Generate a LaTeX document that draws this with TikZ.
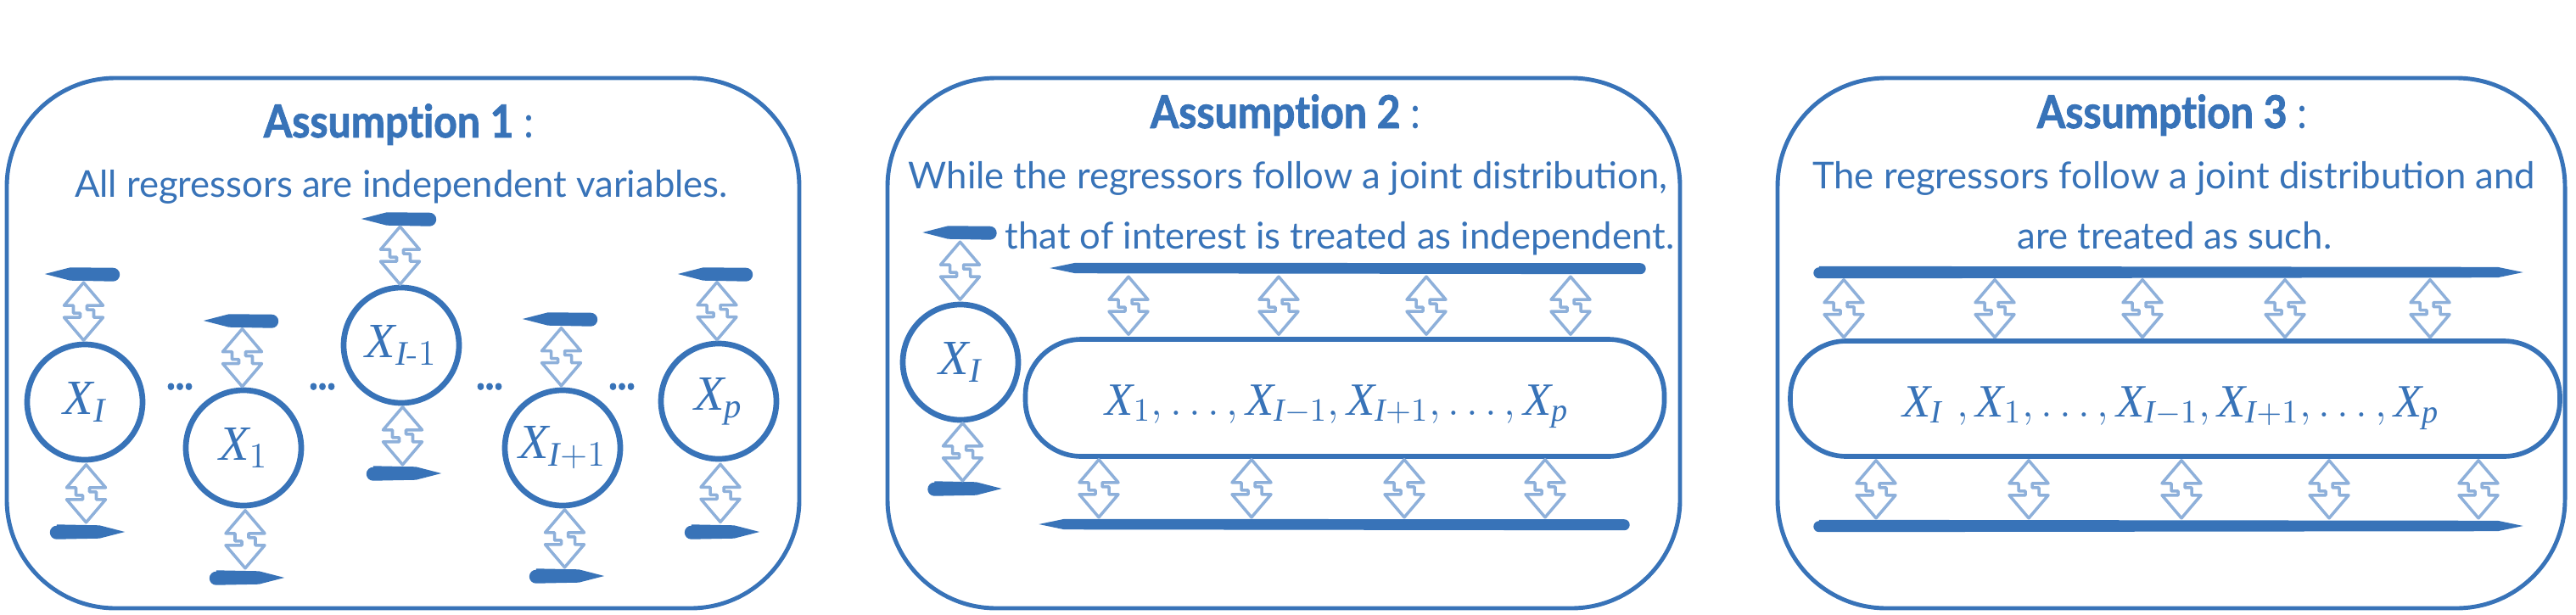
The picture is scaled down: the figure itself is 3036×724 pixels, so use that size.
\documentclass[tikz,border=0pt]{standalone}
\usepackage{amsmath}
\usepackage{fontspec}
\newfontfamily\bodyfont{Lato}
\newfontfamily\titlefont[FakeStretch=0.9,Ligatures=NoCommon,BoldFeatures={FakeBold=1.6}]{Lato}
\newfontfamily\varfont[NFSSFamily=libser]{Liberation Serif}
\DeclareSymbolFont{libit}{TU}{libser}{m}{it}
\AtBeginDocument{%
  \Umathcode`X=7 \symlibit `X
  \Umathcode`I=7 \symlibit `I
  \Umathcode`p=7 \symlibit `p
}
\usetikzlibrary{calc}
\definecolor{mainblue}{HTML}{3873B8}
\definecolor{arrblue}{HTML}{8EB0DA}
\newdimen\pxu \pxu=0.01cm
% brush strokes drawn on named bar nodes
\newcommand\brushR[2]{\fill[mainblue] ([xshift=#2]#1.north west) -- ([xshift=-30\pxu,yshift=-1\pxu]#1.north east) -- (#1.east) -- ([xshift=-30\pxu,yshift=1\pxu]#1.south east) -- ([xshift=#2]#1.south west) arc[start angle=270,end angle=90,radius=#2] -- cycle;}
\newcommand\brushL[2]{\fill[mainblue] ([xshift=-#2]#1.south east) arc[start angle=-90,end angle=90,radius=#2] -- ([xshift=30\pxu,yshift=-1\pxu]#1.north west) -- (#1.west) -- ([xshift=30\pxu,yshift=1\pxu]#1.south west) -- cycle;}
\begin{document}
\begin{tikzpicture}[x=0.01cm,y=-0.01cm,
  panel/.style={draw=mainblue, line width=1.4pt, rounded corners=128\pxu},
  circ/.style={circle, draw=mainblue, line width=1.9pt, minimum size=136\pxu, inner sep=0pt, text=mainblue, font=\fontsize{16.5}{18}\selectfont},
  stad/.style={rectangle, draw=mainblue, line width=1.6pt, rounded corners=66\pxu, inner sep=0pt},
  bar/.style={rectangle, inner sep=0pt, minimum height=16\pxu},
  bigbar/.style={rectangle, inner sep=0pt, minimum height=13\pxu},
  ttl/.style={anchor=base, text=mainblue, font=\titlefont\fontsize{15.2}{18}\selectfont},
  body/.style={anchor=base, text=mainblue, font=\bodyfont\fontsize{12.4}{14}\selectfont},
  mtxt/.style={anchor=base, text=mainblue, font=\fontsize{15.5}{18}\selectfont},
  dotsx/.style={anchor=base, text=mainblue, font=\titlefont\bfseries\fontsize{14}{16}\selectfont},
  dbl/.pic={\draw[arrblue, line width=1pt, line join=round] (0,-34) -- (23,-7) -- (4,-7) -- (4,-2) -- (12,-2) -- (12,7) -- (23,7) -- (0,34) -- (-23,7) -- (-4,7) -- (-4,2) -- (-12,2) -- (-12,-7) -- (-23,-7) -- cycle;}
]
\useasboundingbox (0,0) rectangle (3036,724);

% ---------- panels ----------
\draw[panel] (8,92) rectangle (942,717);
\draw[panel] (1046,92) rectangle (1980,717);
\draw[panel] (2095,92) rectangle (3023,717);

% ---------- titles and texts ----------
\node[ttl] (h1) at (470,162) {\bfseries Assumption 1 {\mdseries :}};
\node[ttl] (h2) at (1515,151) {\bfseries Assumption 2 {\mdseries :}};
\node[ttl] (h3) at (2560,151) {\bfseries Assumption 3 {\mdseries :}};
\node[body] (l1) at (473,232) {All regressors are independent variables.};
\node[body] (l2a) at (1518,222) {While the regressors follow a joint distribution,};
\node[body] (l2b) at (1579,293) {that of interest is treated as independent.};
\node[body] (l3a) at (2562,222) {The regressors follow a joint distribution and};
\node[body] (l3b) at (2563,293) {are treated as such.};

% ---------- panel 1 ----------
\node[circ] (cI)  at (100,474) {$X_I$};
\node[circ] (c1)  at (287,528) {$X_1$};
\node[circ] (cIm) at (473,407) {$X_{I\text{-}1}$};
\node[circ] (cIp) at (663,528) {$X_{I+1}$};
\node[circ] (cp)  at (847,473) {$X_p$};
\node[bar, minimum width=87\pxu] (tI)  at (97,323) {};
\node[bar, minimum width=87\pxu] (t1)  at (284,378) {};
\node[bar, minimum width=87\pxu] (tIm) at (470,258) {};
\node[bar, minimum width=87\pxu] (tIp) at (660,376) {};
\node[bar, minimum width=87\pxu] (tp)  at (843,323) {};
\node[bar, minimum width=87\pxu] (bI)  at (103,627) {};
\node[bar, minimum width=87\pxu] (b1)  at (291,681) {};
\node[bar, minimum width=87\pxu] (bIm) at (476,558) {};
\node[bar, minimum width=87\pxu] (bIp) at (668,679) {};
\node[bar, minimum width=87\pxu] (bp)  at (851,627) {};
\foreach \n in {tI,t1,tIm,tIp,tp} {\brushL{\n}{8\pxu}}
\foreach \n in {bI,b1,bIm,bIp,bp} {\brushR{\n}{8\pxu}}
\foreach \c/\t/\b in {cI/tI/bI, c1/t1/b1, cIm/tIm/bIm, cIp/tIp/bIp, cp/tp/bp} {
  \pic at ($(\t.south)!0.5!(\c.north)$) {dbl};
  \pic at ($(\c.south)!0.5!(\b.north)$) {dbl};
}
\node[dotsx] (d1) at (212,459) {...};
\node[dotsx] (d2) at (380,459) {...};
\node[dotsx] (d3) at (577,459) {...};
\node[dotsx] (d4) at (733,459) {...};

% ---------- panel 2 ----------
\node[circ] (c2I) at (1132,427) {$X_I$};
\node[bar, minimum width=86\pxu] (sI)  at (1131,274) {};
\node[bar, minimum width=86\pxu] (bI2) at (1137,576) {};
\brushL{sI}{8\pxu}
\brushR{bI2}{8\pxu}
\pic at ($(sI.south)!0.5!(c2I.north)$) {dbl};
\pic at ($(c2I.south)!0.5!(bI2.north)$) {dbl};
\node[stad, minimum width=753\pxu, minimum height=138\pxu] (S2) at (1585,469) {};
\node[mtxt] (m2) at (1576,489) {$X_1,\dots,X_{I-1},X_{I+1},\dots,X_p$};
\node[bigbar, minimum width=701\pxu] (T2) at (1588.5,316) {};
\node[bigbar, minimum width=695\pxu] (B2) at (1572.5,618) {};
\brushL{T2}{6.5\pxu}
\brushL{B2}{6.5\pxu}
\foreach \x in {1330,1507,1681,1851} {\pic at ($(\x,0 |- T2.south)!0.5!(\x,0 |- S2.north)$) {dbl};}
\foreach \x in {1295,1475,1655,1821} {\pic at ($(\x,0 |- S2.south)!0.5!(\x,0 |- B2.north)$) {dbl};}

% ---------- panel 3 ----------
\node[stad, minimum width=907\pxu, minimum height=136\pxu] (S3) at (2563.5,470) {};
\node[mtxt] (m3) at (2559,491) {$X_I\ ,X_1,\dots,X_{I-1},X_{I+1},\dots,X_p$};
\node[bigbar, minimum width=835\pxu] (T3) at (2555.5,321) {};
\node[bigbar, minimum width=835\pxu] (B3) at (2555.5,620) {};
\brushR{T3}{6.5\pxu}
\brushR{B3}{6.5\pxu}
\foreach \x in {2173,2351,2525,2693,2864} {\pic at ($(\x,0 |- T3.south)!0.5!(\x,0 |- S3.north)$) {dbl};}
\foreach \x in {2211,2391,2571,2745,2921} {\pic at ($(\x,0 |- S3.south)!0.5!(\x,0 |- B3.north)$) {dbl};}
\end{tikzpicture}
\end{document}
